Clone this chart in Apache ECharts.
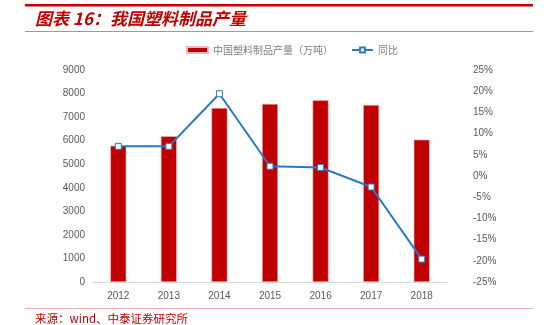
<!DOCTYPE html>
<html><head><meta charset="utf-8">
<script src="https://cdn.jsdelivr.net/npm/echarts@6/dist/echarts.min.js"></script>
<style>html,body{margin:0;padding:0;background:#fff}#c{width:552px;height:325px}</style>
</head><body><div id="c"></div>
<script>
const categories = ['2012','2013','2014','2015','2016','2017','2018'];
const production = [5782, 6189, 7388, 7561, 7718, 7516, 6042];
const yoy = [7.0, 7.0, 19.4, 2.3, 2.0, -2.6, -19.6];
const leftTicks = [0, 9000, 1000];
const rightTicks = [-25, 25, 5];
const titleText = '图表 16：我国塑料制品产量';
const sourceText = '来源：wind、中泰证券研究所';
const barName = '中国塑料制品产量（万吨）';
const lineName = '同比';

const chart = echarts.init(document.getElementById('c'), null, {renderer:'canvas'});
const axisLabelStyle = {color:'#595959', fontSize:10, fontFamily:'Liberation Sans, Arial, sans-serif'};
chart.setOption({
  animation:false,
  backgroundColor:'#fff',
  grid:{left:93, right:105, top:70, bottom:43},
  legend:{
    left:181, top:40, itemGap:18, itemWidth:21, itemHeight:6,
    textStyle:{color:'#7f7f7f', fontSize:10, fontFamily:'Noto Sans CJK SC'},
    data:[{name:barName, icon:'rect'}, {name:lineName}]
  },
  xAxis:{
    type:'category', data:categories,
    axisLine:{lineStyle:{color:'#d9d9d9'}},
    axisTick:{show:false},
    axisLabel:Object.assign({margin:9}, axisLabelStyle)
  },
  yAxis:[
    {type:'value', min:leftTicks[0], max:leftTicks[1], interval:leftTicks[2],
     axisLine:{show:false}, axisTick:{show:false}, splitLine:{show:false},
     axisLabel:Object.assign({margin:8, formatter:v=>String(v)}, axisLabelStyle)},
    {type:'value', min:rightTicks[0], max:rightTicks[1], interval:rightTicks[2], position:'right',
     axisLine:{show:false}, axisTick:{show:false}, splitLine:{show:false},
     axisLabel:Object.assign({margin:26, formatter:v=>v+'%'}, axisLabelStyle)}
  ],
  series:[
    {name:barName, type:'bar', data:production, barWidth:16, yAxisIndex:0,
     itemStyle:{color:'#C00000', borderColor:'#f2b8b8', borderWidth:0.6}},
    {name:lineName, type:'line', data:yoy, yAxisIndex:1,
     symbol:'rect', symbolSize:6,
     lineStyle:{color:'#2878C8', width:2},
     itemStyle:{color:'#fff', borderColor:'#2878C8', borderWidth:1}}
  ],
  graphic:[
    {type:'rect', shape:{x:25, y:4, width:508, height:2.5}, style:{fill:'#C00000'}},
    {type:'text', left:35, top:10, style:{text:titleText, fill:'#C00000', font:'italic bold 17px "Noto Sans CJK SC"'}},
    {type:'rect', shape:{x:25, y:31, width:508, height:1}, style:{fill:'#d98080'}},
    {type:'rect', shape:{x:25, y:308, width:508, height:1}, style:{fill:'#f0a8a8'}},
    {type:'text', left:35, top:313, style:{text:sourceText, fill:'#C00000', font:'11.5px "Noto Sans CJK SC"'}}
  ]
});
</script></body></html>
